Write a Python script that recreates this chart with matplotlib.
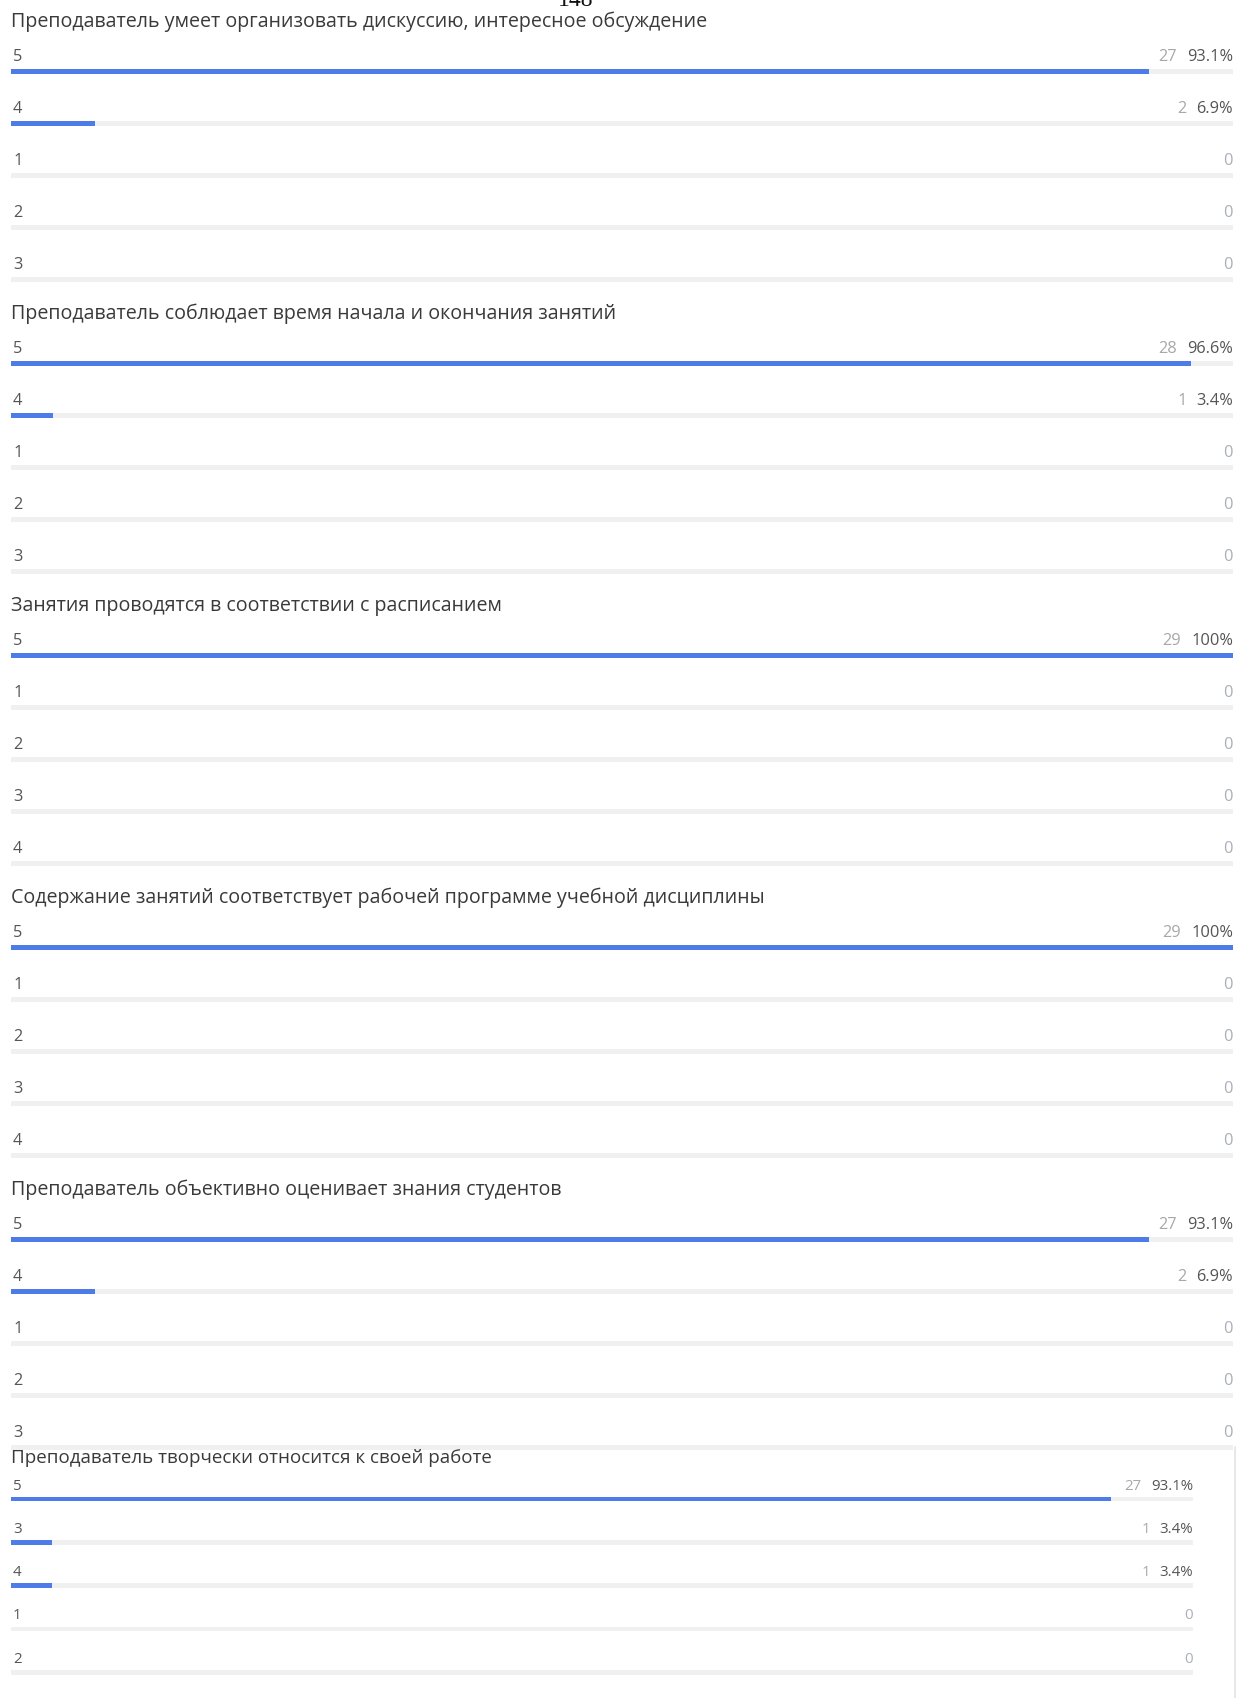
import matplotlib
matplotlib.use("Agg")
import matplotlib.pyplot as plt

plt.rcParams['font.family'] = ['Open Sans', 'DejaVu Sans']

# ---- data ----
titles = [
    "Преподаватель умеет организовать дискуссию, интересное обсуждение",
    "Преподаватель соблюдает время начала и окончания занятий",
    "Занятия проводятся в соответствии с расписанием",
    "Содержание занятий соответствует рабочей программе учебной дисциплины",
    "Преподаватель объективно оценивает знания студентов",
    "Преподаватель творчески относится к своей работе",
]
labels_1 = ["5", "4", "1", "2", "3"]
counts_1 = [27, 2, 0, 0, 0]
pcts_1 = ["93.1%", "6.9%", "", "", ""]

labels_2 = ["5", "4", "1", "2", "3"]
counts_2 = [28, 1, 0, 0, 0]
pcts_2 = ["96.6%", "3.4%", "", "", ""]

labels_3 = ["5", "1", "2", "3", "4"]
counts_3 = [29, 0, 0, 0, 0]
pcts_3 = ["100%", "", "", "", ""]

labels_4 = ["5", "1", "2", "3", "4"]
counts_4 = [29, 0, 0, 0, 0]
pcts_4 = ["100%", "", "", "", ""]

labels_5 = ["5", "4", "1", "2", "3"]
counts_5 = [27, 2, 0, 0, 0]
pcts_5 = ["93.1%", "6.9%", "", "", ""]

labels_6 = ["5", "3", "4", "1", "2"]
counts_6 = [27, 1, 1, 0, 0]
pcts_6 = ["93.1%", "3.4%", "3.4%", "", ""]

total_responses = 29

sections = [
    (titles[0], labels_1, counts_1, pcts_1),
    (titles[1], labels_2, counts_2, pcts_2),
    (titles[2], labels_3, counts_3, pcts_3),
    (titles[3], labels_4, counts_4, pcts_4),
    (titles[4], labels_5, counts_5, pcts_5),
    (titles[5], labels_6, counts_6, pcts_6),
]

# ---- layout (pixels) ----
W, H = 1237, 1698
first_bar_y = [71.5, 363.5, 655.5, 947.5, 1239.5, 1499]
row_step = [52, 52, 52, 52, 52, 43.3]
right_edge = [1233, 1233, 1233, 1233, 1233, 1193]
title_off = [50, 50, 50, 50, 50, 41]
label_off = [14.5, 14.5, 14.5, 14.5, 14.5, 13]
fsz = [14.1, 14.1, 14.1, 14.1, 14.1, 13.5]
lab_fsz = [11.8, 11.8, 11.8, 11.8, 11.8, 10.8]
left_x = 11

BLUE = "#4d7be8"
TRACK = "#f0f0f0"
TITLE_C = "#3a3a3a"
LAB_C = "#555555"
CNT_C = "#a8a8a8"
PCT_C = "#555555"
ZERO_C = "#aab0b8"

fig = plt.figure(figsize=(W / 100, H / 100), dpi=100)
fig.patch.set_facecolor("white")

# page number (cut off at the top, as in the scanned page)
fig.text(576 / W, 1 - 6 / H, "148", ha="center", va="baseline",
         family=["Liberation Serif", "DejaVu Serif"], fontsize=17, color="#111111")

for k, (title, labels, counts, pcts) in enumerate(sections):
    step = row_step[k]
    n = len(labels)
    ytop = first_bar_y[k] - step / 2
    ybot = first_bar_y[k] + (n - 1) * step + step / 2
    ax = fig.add_axes([left_x / W, 1 - ybot / H,
                       (right_edge[k] - left_x) / W, (ybot - ytop) / H])
    ax.set_xlim(0, total_responses)
    ax.set_ylim(n - 0.5, -0.5)
    ax.axis("off")
    ypos = list(range(n))
    h = 4.6 / step
    ax.barh(ypos, [total_responses] * n, height=h, color=TRACK, zorder=1)
    ax.barh(ypos, counts, height=h, color=BLUE, zorder=2)

    ax.text(0, -title_off[k] / step, title, ha="left", va="center",
            fontsize=fsz[k], color=TITLE_C, clip_on=False)
    for i, (lab, c, p) in enumerate(zip(labels, counts, pcts)):
        yl = i - label_off[k] / step
        ax.text(0.05, yl, lab, ha="left", va="center", fontsize=lab_fsz[k],
                color=LAB_C, clip_on=False)
        if c == 0:
            ax.text(total_responses, yl, "0", ha="right", va="center",
                    fontsize=lab_fsz[k], color=ZERO_C, clip_on=False)
        else:
            t = ax.text(total_responses, yl, p, ha="right", va="center",
                        fontsize=lab_fsz[k], color=PCT_C, clip_on=False)
            ax.annotate(str(c), xy=(0, 0.5), xycoords=t, xytext=(-7, 0),
                        textcoords="offset points", ha="right", va="center",
                        fontsize=lab_fsz[k], color=CNT_C, annotation_clip=False)

# faint border of the last block
fig.add_artist(plt.Line2D([1235 / W, 1235 / W], [0, 1 - 1447 / H],
                          color="#e4e4e4", lw=1.2))

fig.savefig("out.png", dpi=100, facecolor="white")
